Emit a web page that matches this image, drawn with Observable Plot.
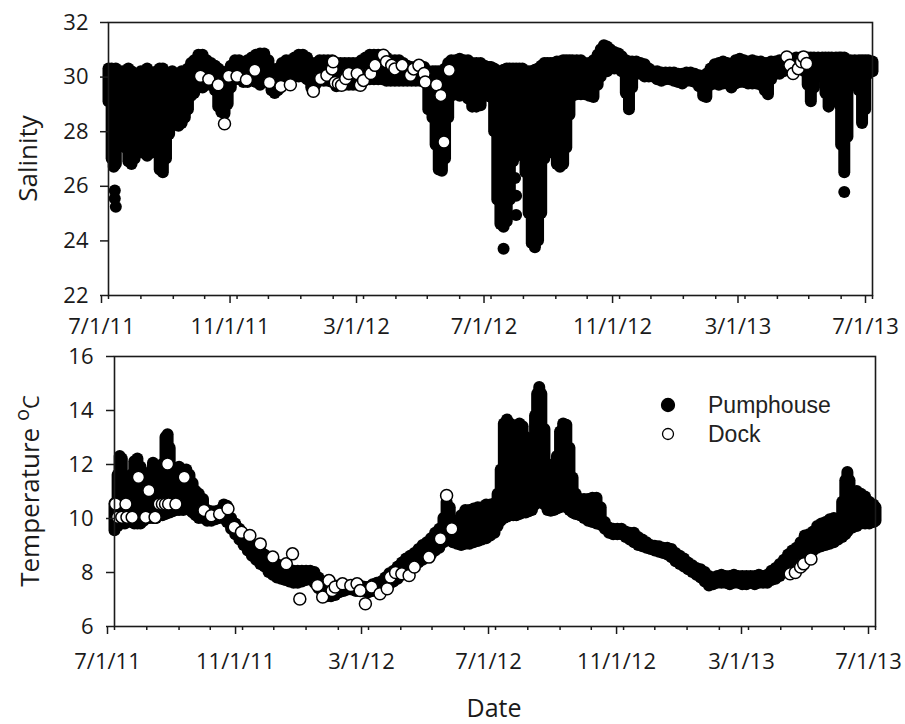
<!DOCTYPE html>
<html><head><meta charset="utf-8">
<script src="https://cdn.jsdelivr.net/npm/d3@7"></script>
<script src="https://cdn.jsdelivr.net/npm/@observablehq/plot@0.6"></script>
<style>
body{margin:0;background:#fff;}
#wrap{position:relative;width:905px;height:724px;background:#fff;}
#wrap svg{position:absolute;left:0;overflow:visible;}
</style></head><body><div id="wrap"></div>
<script>
// ---- tick labels / categories ----
const xTickDates = ["2011-07-01","2011-11-01","2012-03-01","2012-07-01","2012-11-01","2013-03-01","2013-07-01"];
const xTickLabels = ["7/1/11","11/1/11","3/1/12","7/1/12","11/1/12","3/1/13","7/1/13"];
const salTicks = [22,24,26,28,30,32];
const tempTicks = [6,8,10,12,14,16];
const seriesNames = ["Pumphouse","Dock"];

// ---- Salinity, Pumphouse: [date, low, high] of the dense record ----
const salPump = [
["2011-07-01",29.1,30.3],["2011-07-04",27.0,30.3],["2011-07-06",26.7,30.2],["2011-07-08",26.8,30.3],["2011-07-11",27.6,30.1],["2011-07-14",28.2,30.2],["2011-07-17",27.4,30.2],["2011-07-20",26.9,30.3],["2011-07-23",26.8,30.2],["2011-07-26",27.0,30.1],["2011-07-29",27.6,30.1],
["2011-08-01",27.6,30.2],["2011-08-04",27.2,30.2],["2011-08-07",27.1,30.3],["2011-08-10",27.2,30.1],["2011-08-13",27.8,30.1],["2011-08-16",27.2,30.2],["2011-08-19",26.6,30.3],["2011-08-22",26.5,30.3],["2011-08-25",27.0,30.1],["2011-08-28",27.9,30.1],["2011-08-31",28.2,30.2],
["2011-09-03",28.3,30.1],["2011-09-06",28.2,30.0],["2011-09-09",28.3,30.2],["2011-09-12",28.5,30.2],["2011-09-15",28.8,30.3],["2011-09-18",29.3,30.5],["2011-09-21",29.4,30.6],["2011-09-25",29.6,30.8],["2011-09-29",29.6,30.8],
["2011-10-03",29.7,30.6],["2011-10-07",29.7,30.5],["2011-10-11",29.5,30.4],["2011-10-14",28.9,30.3],["2011-10-17",28.7,30.2],["2011-10-20",28.65,30.1],["2011-10-23",29.0,30.2],["2011-10-26",29.6,30.4],["2011-10-30",29.9,30.6],
["2011-11-03",29.9,30.6],["2011-11-07",29.8,30.5],["2011-11-11",29.8,30.6],["2011-11-15",29.9,30.7],["2011-11-19",29.8,30.8],["2011-11-23",29.7,30.85],["2011-11-27",29.9,30.85],
["2011-12-01",29.8,30.6],["2011-12-04",29.5,30.3],["2011-12-07",29.4,30.2],["2011-12-10",29.5,30.3],["2011-12-14",29.9,30.5],["2011-12-18",30.0,30.6],["2011-12-22",30.0,30.6],["2011-12-26",30.0,30.7],["2011-12-30",30.0,30.8],
["2012-01-03",30.0,30.8],["2012-01-07",29.9,30.7],["2012-01-11",29.6,30.5],["2012-01-15",29.7,30.5],["2012-01-19",29.85,30.6],["2012-01-23",29.85,30.6],["2012-01-27",29.85,30.6],["2012-01-31",29.8,30.6],
["2012-02-04",29.65,30.5],["2012-02-08",29.7,30.5],["2012-02-12",29.7,30.5],["2012-02-16",29.7,30.5],["2012-02-20",29.7,30.5],["2012-02-24",29.7,30.5],["2012-02-28",29.8,30.6],
["2012-03-03",29.9,30.7],["2012-03-07",29.9,30.8],["2012-03-11",29.9,30.8],["2012-03-15",29.9,30.8],["2012-03-19",29.9,30.75],["2012-03-23",29.85,30.7],["2012-03-27",29.85,30.6],["2012-03-31",29.85,30.6],
["2012-04-04",29.85,30.6],["2012-04-08",29.85,30.5],["2012-04-12",29.85,30.4],["2012-04-16",29.85,30.35],["2012-04-20",29.85,30.35],["2012-04-24",29.85,30.35],["2012-04-28",29.85,30.35],
["2012-05-02",28.8,30.2],["2012-05-06",28.5,30.2],["2012-05-09",27.5,30.2],["2012-05-12",26.6,30.2],["2012-05-15",26.55,30.2],["2012-05-18",27.0,30.3],["2012-05-21",28.5,30.5],["2012-05-24",29.3,30.6],["2012-05-28",29.35,30.6],
["2012-06-01",29.3,30.65],["2012-06-05",29.35,30.6],["2012-06-09",29.2,30.6],["2012-06-13",28.9,30.5],["2012-06-17",28.9,30.5],["2012-06-21",28.95,30.5],["2012-06-25",29.3,30.4],["2012-06-29",29.3,30.35],
["2012-07-01",29.25,30.35],["2012-07-04",28.0,30.3],["2012-07-07",25.5,30.2],["2012-07-10",24.6,30.2],["2012-07-13",24.5,30.25],["2012-07-16",24.7,30.3],["2012-07-19",25.5,30.3],["2012-07-22",26.9,30.3],["2012-07-25",27.2,30.3],["2012-07-28",27.3,30.3],["2012-07-31",27.1,30.3],
["2012-08-03",26.5,30.2],["2012-08-06",25.0,30.2],["2012-08-09",23.9,30.2],["2012-08-12",23.75,30.25],["2012-08-15",24.0,30.3],["2012-08-18",25.0,30.4],["2012-08-21",27.0,30.5],["2012-08-24",28.0,30.5],["2012-08-27",27.5,30.5],["2012-08-30",27.2,30.5],
["2012-09-02",26.8,30.55],["2012-09-05",26.7,30.55],["2012-09-08",26.8,30.6],["2012-09-11",27.4,30.6],["2012-09-14",28.6,30.6],["2012-09-17",29.3,30.6],["2012-09-21",29.35,30.6],["2012-09-25",29.35,30.6],["2012-09-29",29.35,30.5],
["2012-10-03",29.3,30.5],["2012-10-07",29.25,30.6],["2012-10-11",29.7,30.8],["2012-10-14",30.0,31.0],["2012-10-17",30.2,31.15],["2012-10-20",30.2,31.1],["2012-10-23",30.3,31.0],["2012-10-27",30.3,30.9],["2012-10-31",30.3,30.85],
["2012-11-03",30.2,30.75],["2012-11-07",29.4,30.6],["2012-11-10",28.8,30.55],["2012-11-13",29.6,30.55],["2012-11-17",30.1,30.55],["2012-11-21",30.1,30.5],["2012-11-25",30.0,30.45],["2012-11-29",30.0,30.3],
["2012-12-03",30.0,30.2],["2012-12-07",29.9,30.2],["2012-12-11",29.85,30.15],["2012-12-15",29.9,30.15],["2012-12-19",29.9,30.15],["2012-12-23",29.85,30.15],["2012-12-27",29.8,30.1],["2012-12-31",29.75,30.1],
["2013-01-04",29.85,30.15],["2013-01-08",29.85,30.15],["2013-01-12",29.8,30.1],["2013-01-16",29.65,30.05],["2013-01-20",29.3,30.0],["2013-01-23",29.25,30.1],["2013-01-27",29.7,30.3],["2013-01-31",29.75,30.45],
["2013-02-04",29.7,30.5],["2013-02-08",29.75,30.55],["2013-02-12",29.75,30.5],["2013-02-16",29.6,30.45],["2013-02-20",29.75,30.6],["2013-02-24",29.8,30.65],["2013-02-28",29.8,30.6],
["2013-03-04",29.75,30.55],["2013-03-08",29.75,30.6],["2013-03-12",29.75,30.55],["2013-03-16",29.7,30.55],["2013-03-20",29.5,30.5],["2013-03-23",29.35,30.5],["2013-03-26",29.9,30.55],["2013-03-30",30.1,30.55],
["2013-04-03",30.1,30.6],["2013-04-07",30.2,30.6],["2013-04-11",30.3,30.6],["2013-04-15",30.3,30.65],["2013-04-19",30.3,30.7],["2013-04-23",30.3,30.7],["2013-04-27",30.2,30.7],["2013-04-30",29.7,30.7],
["2013-05-03",29.1,30.7],["2013-05-06",29.6,30.7],["2013-05-10",30.0,30.7],["2013-05-14",30.0,30.7],["2013-05-17",29.4,30.7],["2013-05-20",28.9,30.7],["2013-05-23",29.6,30.7],["2013-05-27",30.0,30.7],["2013-05-30",29.0,30.7],
["2013-06-01",27.5,30.7],["2013-06-04",26.5,30.7],["2013-06-07",27.8,30.6],["2013-06-10",29.8,30.6],["2013-06-14",30.0,30.6],["2013-06-18",29.5,30.6],["2013-06-21",28.3,30.6],["2013-06-24",28.8,30.6],["2013-06-27",30.1,30.6],["2013-07-01",30.2,30.55]
];
// isolated Pumphouse salinity readings below the main band
const salPumpSingles = [
["2011-07-07",25.85],["2011-07-07",25.55],["2011-07-08",25.25],
["2012-07-13",23.71],["2012-07-24",26.3],["2012-07-25",25.65],["2012-07-25",24.95],
["2013-06-04",25.79]
];
// Dock salinity
const salDock = [
["2011-09-27",30.03],["2011-10-05",29.92],["2011-10-14",29.72],["2011-10-20",28.29],["2011-10-24",30.03],["2011-11-01",30.03],["2011-11-10",29.9],["2011-11-18",30.25],["2011-12-02",29.8],["2011-12-13",29.66],["2011-12-22",29.72],
["2012-01-13",29.48],["2012-01-20",29.95],["2012-01-26",30.07],["2012-01-31",30.3],["2012-02-01",30.56],["2012-02-03",29.8],["2012-02-06",29.76],["2012-02-09",29.7],["2012-02-13",29.95],["2012-02-16",30.13],["2012-02-24",30.13],["2012-02-27",29.7],
["2012-03-01",29.88],["2012-03-08",30.13],["2012-03-12",30.43],["2012-03-20",30.8],["2012-03-23",30.56],["2012-03-28",30.43],["2012-03-31",30.3],["2012-04-07",30.43],["2012-04-15",30.07],["2012-04-18",30.3],["2012-04-23",30.43],["2012-04-28",30.13],["2012-04-29",29.82],
["2012-05-10",29.72],["2012-05-14",29.33],["2012-05-17",27.62],["2012-05-22",30.25],
["2013-04-10",30.74],["2013-04-13",30.43],["2013-04-16",30.13],["2013-04-21",30.31],["2013-04-24",30.56],["2013-04-26",30.74],["2013-04-29",30.5]
];

// ---- Temperature, Pumphouse: [date, low, high] ----
const tempPump = [
["2011-07-01",9.55,10.55],["2011-07-04",9.7,11.6],["2011-07-06",9.8,12.3],["2011-07-08",9.8,12.2],["2011-07-11",9.8,11.5],["2011-07-14",9.9,10.9],["2011-07-17",9.85,11.6],["2011-07-20",9.8,12.1],["2011-07-23",9.8,12.2],["2011-07-26",9.8,11.9],["2011-07-29",9.9,11.2],
["2011-08-01",10.0,11.2],["2011-08-04",10.0,11.7],["2011-08-07",10.0,12.05],["2011-08-10",10.0,11.9],["2011-08-13",10.1,11.6],["2011-08-16",10.1,12.0],["2011-08-19",10.15,13.0],["2011-08-21",10.2,13.1],["2011-08-23",10.2,12.6],["2011-08-26",10.25,11.8],["2011-08-29",10.3,11.85],
["2011-09-01",10.3,11.9],["2011-09-05",10.3,11.8],["2011-09-08",10.35,11.8],["2011-09-11",10.3,11.6],["2011-09-14",10.2,11.3],["2011-09-17",10.1,11.0],["2011-09-20",10.0,10.9],["2011-09-24",10.0,10.7],["2011-09-28",9.9,10.3],
["2011-10-02",9.9,10.25],["2011-10-06",9.95,10.25],["2011-10-10",10.0,10.3],["2011-10-14",10.0,10.5],["2011-10-17",9.85,10.45],["2011-10-21",9.6,10.0],["2011-10-25",9.4,9.8],["2011-10-29",9.2,9.6],
["2011-11-02",9.0,9.4],["2011-11-06",8.8,9.2],["2011-11-10",8.6,9.0],["2011-11-14",8.45,8.9],["2011-11-18",8.3,8.8],["2011-11-22",8.2,8.65],["2011-11-26",8.0,8.5],["2011-11-30",7.9,8.4],
["2011-12-04",7.8,8.3],["2011-12-08",7.75,8.2],["2011-12-12",7.7,8.15],["2011-12-16",7.65,8.1],["2011-12-20",7.6,8.05],["2011-12-24",7.6,8.05],["2011-12-28",7.65,8.05],
["2012-01-01",7.7,8.05],["2012-01-05",7.75,8.05],["2012-01-09",7.6,8.0],["2012-01-13",7.4,7.8],["2012-01-17",7.15,7.6],["2012-01-21",7.1,7.5],["2012-01-25",7.1,7.45],["2012-01-29",7.15,7.5],
["2012-02-02",7.25,7.5],["2012-02-06",7.3,7.5],["2012-02-10",7.35,7.45],["2012-02-14",7.35,7.5],["2012-02-18",7.3,7.5],["2012-02-22",7.3,7.5],["2012-02-26",7.3,7.45],
["2012-03-01",7.25,7.45],["2012-03-05",7.3,7.55],["2012-03-09",7.3,7.6],["2012-03-13",7.35,7.65],["2012-03-17",7.45,7.8],["2012-03-21",7.55,7.95],["2012-03-25",7.65,8.05],["2012-03-29",7.75,8.2],
["2012-04-02",7.9,8.35],["2012-04-06",8.0,8.5],["2012-04-10",8.1,8.6],["2012-04-14",8.2,8.7],["2012-04-18",8.35,8.85],["2012-04-22",8.45,9.0],["2012-04-26",8.55,9.1],["2012-04-30",8.65,9.25],
["2012-05-04",8.8,9.45],["2012-05-08",8.9,9.6],["2012-05-12",9.1,10.0],["2012-05-15",9.3,10.6],["2012-05-18",9.2,10.4],["2012-05-21",9.1,9.9],["2012-05-25",9.05,9.9],["2012-05-29",9.0,10.1],
["2012-06-02",9.05,10.3],["2012-06-06",9.05,10.3],["2012-06-10",9.1,10.35],["2012-06-14",9.15,10.4],["2012-06-18",9.2,10.4],["2012-06-22",9.25,10.5],["2012-06-26",9.35,10.5],["2012-06-30",9.45,10.55],
["2012-07-03",9.7,10.9],["2012-07-06",9.9,11.8],["2012-07-09",10.0,13.5],["2012-07-12",10.05,13.65],["2012-07-15",10.1,13.5],["2012-07-18",10.1,12.9],["2012-07-21",10.1,13.2],["2012-07-24",10.15,13.5],["2012-07-27",10.2,13.4],["2012-07-30",10.2,13.0],
["2012-08-02",10.25,12.8],["2012-08-05",10.3,12.9],["2012-08-08",10.5,13.8],["2012-08-10",10.7,14.6],["2012-08-12",10.75,14.85],["2012-08-14",10.7,14.6],["2012-08-17",10.5,13.3],["2012-08-20",10.3,12.0],["2012-08-23",10.27,11.7],["2012-08-26",10.3,11.9],["2012-08-29",10.35,12.3],
["2012-09-01",10.4,13.2],["2012-09-04",10.45,13.5],["2012-09-07",10.4,13.45],["2012-09-10",10.3,12.6],["2012-09-13",10.2,11.5],["2012-09-16",10.15,10.9],["2012-09-20",10.1,10.7],["2012-09-24",10.0,10.7],["2012-09-28",9.9,10.7],
["2012-10-02",9.85,10.75],["2012-10-06",9.8,10.75],["2012-10-10",9.75,10.4],["2012-10-14",9.6,9.85],["2012-10-18",9.45,9.65],["2012-10-22",9.4,9.6],["2012-10-26",9.4,9.6],["2012-10-30",9.4,9.6],
["2012-11-03",9.3,9.5],["2012-11-07",9.2,9.45],["2012-11-11",9.1,9.45],["2012-11-15",9.0,9.3],["2012-11-19",8.95,9.2],["2012-11-23",8.9,9.1],["2012-11-27",8.85,9.0],
["2012-12-01",8.8,8.97],["2012-12-05",8.75,8.95],["2012-12-09",8.7,8.9],["2012-12-13",8.65,8.9],["2012-12-17",8.55,8.85],["2012-12-21",8.4,8.7],["2012-12-25",8.3,8.6],["2012-12-29",8.2,8.5],
["2013-01-02",8.1,8.35],["2013-01-06",8.0,8.25],["2013-01-10",7.9,8.15],["2013-01-14",7.8,8.1],["2013-01-18",7.65,8.0],["2013-01-22",7.5,7.85],["2013-01-26",7.55,7.8],["2013-01-30",7.6,7.85],
["2013-02-03",7.6,7.9],["2013-02-07",7.6,7.85],["2013-02-11",7.55,7.85],["2013-02-15",7.6,7.9],["2013-02-19",7.6,7.85],["2013-02-23",7.55,7.85],["2013-02-27",7.55,7.85],
["2013-03-03",7.6,7.85],["2013-03-07",7.55,7.85],["2013-03-11",7.6,7.9],["2013-03-15",7.6,7.85],["2013-03-19",7.6,7.9],["2013-03-23",7.7,8.05],["2013-03-27",7.75,8.15],["2013-03-31",7.85,8.3],
["2013-04-04",8.0,8.45],["2013-04-08",8.15,8.65],["2013-04-12",8.25,8.8],["2013-04-16",8.35,8.9],["2013-04-20",8.5,9.1],["2013-04-24",8.6,9.35],["2013-04-28",8.7,9.4],
["2013-05-02",8.8,9.5],["2013-05-06",8.9,9.7],["2013-05-10",8.95,9.8],["2013-05-14",9.0,9.85],["2013-05-18",9.05,9.95],["2013-05-22",9.1,10.0],["2013-05-26",9.2,9.95],["2013-05-30",9.3,10.6],
["2013-06-02",9.4,11.4],["2013-06-04",9.5,11.7],["2013-06-06",9.6,11.4],["2013-06-09",9.65,10.9],["2013-06-13",9.7,11.0],["2013-06-17",9.8,10.9],["2013-06-21",9.8,10.8],["2013-06-25",9.8,10.6],["2013-06-29",9.85,10.5],["2013-07-01",9.9,10.4]
];
// Dock temperature
const tempDock = [
["2011-07-02",10.54],["2011-07-04",10.05],["2011-07-08",10.05],["2011-07-12",10.54],["2011-07-13",10.05],["2011-07-18",10.05],["2011-07-24",11.53],["2011-07-31",10.05],
["2011-08-03",11.04],["2011-08-09",10.05],["2011-08-13",10.54],["2011-08-16",10.54],["2011-08-19",10.54],["2011-08-21",12.02],["2011-08-22",10.54],["2011-08-29",10.54],
["2011-09-06",11.53],["2011-09-25",10.3],["2011-10-02",10.1],["2011-10-10",10.17],["2011-10-18",10.36],["2011-10-24",9.68],["2011-10-31",9.49],["2011-11-08",9.37],["2011-11-18",9.06],["2011-11-30",8.57],
["2011-12-13",8.32],["2011-12-19",8.69],["2011-12-26",7.02],
["2012-01-12",7.52],["2012-01-17",7.09],["2012-01-23",7.7],["2012-01-26",7.33],["2012-01-29",7.46],["2012-02-05",7.58],["2012-02-13",7.52],["2012-02-19",7.58],["2012-02-22",7.33],["2012-02-27",6.84],
["2012-03-04",7.46],["2012-03-12",7.21],["2012-03-19",7.4],["2012-03-22",7.83],["2012-03-27",8.0],["2012-04-02",7.95],["2012-04-09",7.89],["2012-04-14",8.2],["2012-04-28",8.57],
["2012-05-09",9.25],["2012-05-15",10.85],["2012-05-20",9.62],
["2013-04-10",7.95],["2013-04-15",8.0],["2013-04-20",8.2],["2013-04-23",8.32],["2013-04-30",8.5]
];

// ---------------------------------------------------------------
const parse = d3.utcParse("%Y-%m-%d");
const startDate = parse(xTickDates[0]);
const endDate = parse(xTickDates[xTickDates.length - 1]);
const monthTicks = d3.utcMonth.range(startDate, d3.utcDay.offset(endDate, 1));
const majorTicks = xTickDates.map(parse);
const labelOf = new Map(majorTicks.map((d, i) => [+d, xTickLabels[i]]));
const FONT = "'Open Sans', sans-serif";

function panel({pump, singles, dock, yDomain, yTicks, height, mt, mb, ml, mr, yPad, xPad}) {
  return Plot.plot({
    width: 905, height,
    marginTop: mt, marginBottom: mb, marginLeft: ml, marginRight: mr,
    style: {background: "transparent", fontFamily: FONT, fontSize: "22px", color: "#1a1a1a", overflow: "visible"},
    x: {type: "utc", domain: [startDate, endDate]},
    y: {domain: yDomain},
    marks: [
      Plot.ruleX(pump, {x: d => parse(d[0]), y1: d => d[1], y2: d => d[2], stroke: "#000", strokeWidth: 12, strokeLinecap: "round"}),
      Plot.dot(singles, {x: d => parse(d[0]), y: d => d[1], r: 6, fill: "#000", stroke: "none"}),
      Plot.dot(dock, {x: d => parse(d[0]), y: d => d[1], r: 6, fill: "#fff", stroke: "#000", strokeWidth: 1.5}),
      Plot.frame({stroke: "#1a1a1a", strokeWidth: 1.6}),
      Plot.axisY({ticks: yTicks, tickSize: 8, tickPadding: yPad, label: null, strokeWidth: 1.5, tickFormat: d => String(d)}),
      Plot.axisX({ticks: monthTicks, tickSize: 4, tickFormat: () => "", label: null, strokeWidth: 1.5}),
      Plot.axisX({ticks: majorTicks, tickSize: 8, tickPadding: xPad, tickFormat: d => labelOf.get(+d), label: null, strokeWidth: 1.5, dx: -7})
    ]
  });
}

const wrap = document.getElementById("wrap");
const topSvg = panel({pump: salPump, singles: salPumpSingles, dock: salDock, yDomain: [22, 32], yTicks: salTicks,
  height: 330, mt: 22, mb: 35, ml: 108, mr: 33, yPad: 12, xPad: 15});
topSvg.style.top = "0px";
const botSvg = panel({pump: tempPump, singles: [], dock: tempDock, yDomain: [6, 16], yTicks: tempTicks,
  height: 394, mt: 26, mb: 98, ml: 114, mr: 30, yPad: 13, xPad: 19});
botSvg.style.top = "330px";
wrap.appendChild(topSvg);
wrap.appendChild(botSvg);

// axis titles
d3.select(topSvg).append("text")
  .attr("transform", "translate(37,158.5) rotate(-90)")
  .attr("text-anchor", "middle").attr("font-family", FONT).attr("font-size", 26).attr("fill", "#1a1a1a")
  .text("Salinity");
const tt = d3.select(botSvg).append("text")
  .attr("transform", "translate(39,161) rotate(-90)")
  .attr("text-anchor", "middle").attr("font-family", FONT).attr("font-size", 26).attr("fill", "#1a1a1a");
tt.append("tspan").text("Temperature ");
tt.append("tspan").attr("font-size", 20).attr("dy", -10).text("o");
tt.append("tspan").attr("font-size", 22).attr("dy", 10).text("C");
d3.select(botSvg).append("text")
  .attr("x", 494).attr("y", 387).attr("text-anchor", "middle")
  .attr("font-family", FONT).attr("font-size", 25).attr("fill", "#1a1a1a").text("Date");

// legend
const lg = d3.select(botSvg).append("g");
seriesNames.forEach((name, i) => {
  const cy = 75 + i * 29;
  lg.append("circle").attr("cx", 668).attr("cy", cy).attr("r", i === 0 ? 6.5 : 5.5)
    .attr("fill", i === 0 ? "#000" : "#fff").attr("stroke", "#000").attr("stroke-width", 1.3);
  lg.append("text").attr("x", 708).attr("y", cy + 8).attr("text-anchor", "start")
    .attr("font-family", "'Liberation Sans', Arial, sans-serif").attr("font-size", 23).attr("fill", "#222").text(name);
});
</script></body></html>
